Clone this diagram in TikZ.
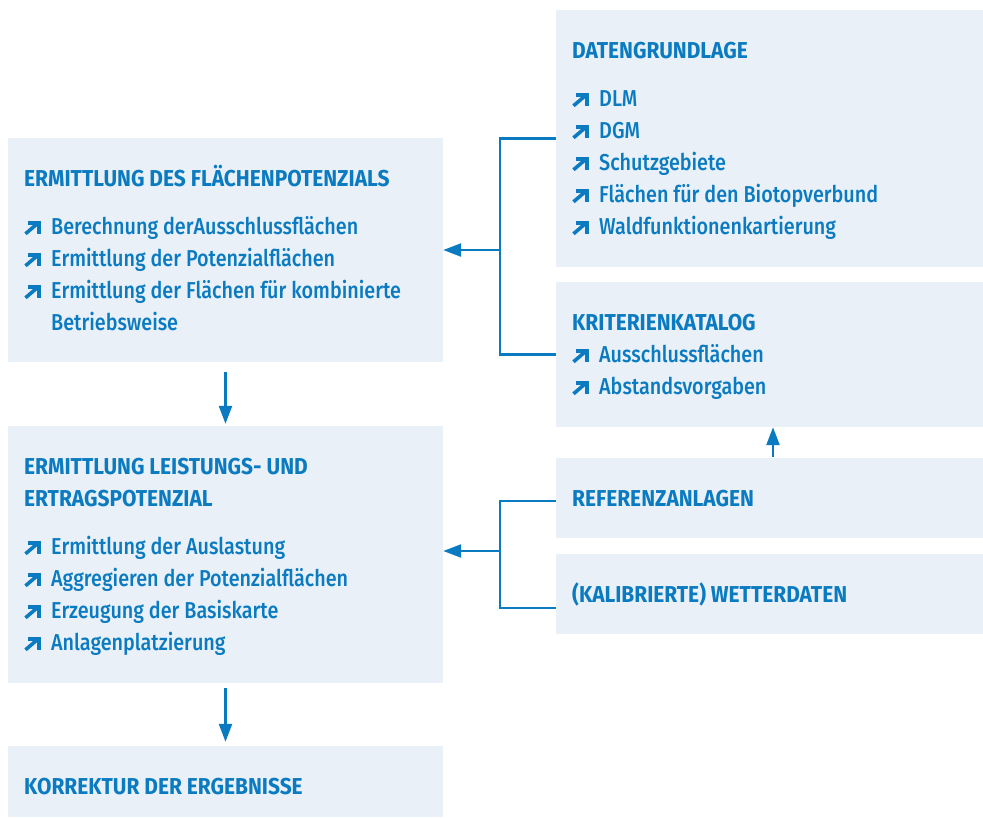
\documentclass[tikz,border=0pt]{standalone}
\usepackage{fontspec}
\setmainfont{Fira Sans}[FakeStretch=0.86, UprightFont=* Medium]
\newfontfamily\titelfont{Fira Sans}[FakeStretch=0.91]
\usetikzlibrary{arrows.meta}
\definecolor{blau}{HTML}{0B7BC1}
\definecolor{hell}{HTML}{E9F0F8}
\tikzset{
	kasten/.style={fill=hell, draw=none, inner sep=0pt},
	titel/.style={anchor=base west, inner sep=0pt, text=blau, font=\fontsize{23}{28}\titelfont\bfseries},
	punkt/.style={anchor=base west, inner sep=0pt, text=blau, font=\fontsize{23}{28}\selectfont},
	linie/.style={draw=blau, line width=2.6pt},
	pfeil/.style={draw=blau, line width=2.4pt, -{Triangle[length=18pt,width=13pt]}},
	pics/spitze/.style={code={
		\draw[blau, line width=3.6pt, line join=miter] (3.5,-11.2) -- (14.8,-11.2) -- (14.8,-0.5);
		\draw[blau, line width=3.6pt] (1.5,-0.2) -- (13.5,-10.5);
	}}
}
\begin{document}
\begin{tikzpicture}[x=1pt,y=-1pt]
	\useasboundingbox (0,0) rectangle (983,817);
	% Kaesten
	\node[kasten, minimum width=435, minimum height=224] (flaeche) at (225.5,250) {};
	\node[kasten, minimum width=435, minimum height=257] (leistung) at (225.5,554.5) {};
	\node[kasten, minimum width=435, minimum height=71] (korrektur) at (225.5,781.5) {};
	\node[kasten, minimum width=427, minimum height=257] (daten) at (769.5,138.5) {};
	\node[kasten, minimum width=427, minimum height=145] (kriterien) at (769.5,354.5) {};
	\node[kasten, minimum width=427, minimum height=80] (referenz) at (769.5,498) {};
	\node[kasten, minimum width=427, minimum height=80] (wetter) at (769.5,594) {};
	% Titel
	\node[titel] (t1) at (24,186) {ERMITTLUNG DES FLÄCHENPOTENZIALS};
	\node[titel] (t2) at (24,474) {ERMITTLUNG LEISTUNGS- UND};
	\node[titel] (t3) at (24,506) {ERTRAGSPOTENZIAL};
	\node[titel] (t4) at (24,794) {KORREKTUR DER ERGEBNISSE};
	\node[titel] (t5) at (572,58) {DATENGRUNDLAGE};
	\node[titel] (t6) at (572,330) {KRITERIENKATALOG};
	\node[titel] (t7) at (572,506) {REFERENZANLAGEN};
	\node[titel] (t8) at (572,602) {(KALIBRIERTE) WETTERDATEN};
	% Punkte
	\foreach \y/\t [count=\i] in {234/Berechnung derAusschlussflächen, 266/Ermittlung der Potenzialflächen, 298/Ermittlung der Flächen für kombinierte}{
		\pic at (24,\y) {spitze};
		\node[punkt] (a\i) at (51,\y) {\t};
	}
	\node[punkt] (a4) at (51,330) {Betriebsweise};
	\foreach \y/\t [count=\i] in {554/Ermittlung der Auslastung, 586/Aggregieren der Potenzialflächen, 618/Erzeugung der Basiskarte, 650/Anlagenplatzierung}{
		\pic at (24,\y) {spitze};
		\node[punkt] (b\i) at (51,\y) {\t};
	}
	\foreach \y/\t [count=\i] in {106/DLM, 138/DGM, 170/Schutzgebiete, 202/Flächen für den Biotopverbund, 234/Waldfunktionenkartierung}{
		\pic at (572,\y) {spitze};
		\node[punkt] (d\i) at (599,\y) {\t};
	}
	\foreach \y/\t [count=\i] in {362/Ausschlussflächen, 394/Abstandsvorgaben}{
		\pic at (572,\y) {spitze};
		\node[punkt] (k\i) at (599,\y) {\t};
	}
	% Verbindungen
	\coordinate (g1) at (500,250);
	\coordinate (g2) at (500,551);
	\draw[linie] (daten.west) -| (g1) |- (kriterien.west);
	\draw[pfeil] (g1) -- (flaeche.east |- g1);
	\draw[linie] (referenz.west |- 0,501) -| (g2) |- (wetter.west |- 0,608);
	\draw[pfeil] (g2) -- (leistung.east |- g2);
	\draw[pfeil] ([yshift=-10pt]flaeche.south) -- ([yshift=2pt]leistung.north);
	\draw[pfeil] ([yshift=-5pt]leistung.south) -- ([yshift=4pt]korrektur.north);
	\draw[pfeil] ([xshift=3.5pt,yshift=1pt]referenz.north) -- ([xshift=3.5pt]kriterien.south);
\end{tikzpicture}
\end{document}
